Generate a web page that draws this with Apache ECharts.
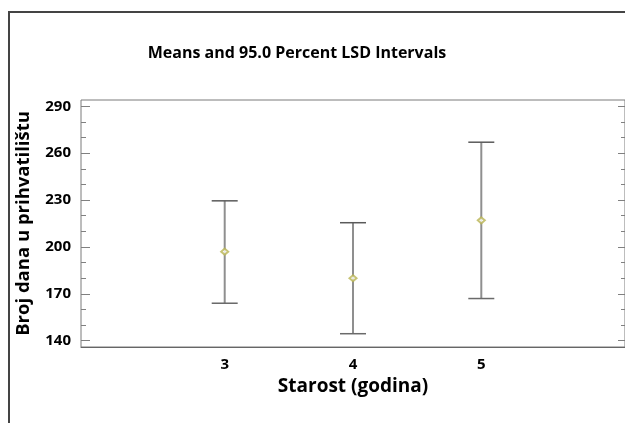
<!DOCTYPE html>
<html>
<head>
<meta charset="utf-8">
<script src="https://cdn.jsdelivr.net/npm/echarts@6/dist/echarts.min.js"></script>
<style>
html,body{margin:0;padding:0;background:#fff;}
#chart{width:625px;height:423px;}
</style>
</head>
<body>
<div id="chart"></div>
<script>
// Data
var ages = [3, 4, 5];
var means = [197, 180, 217];
var lower = [164, 144.5, 167];
var upper = [229.5, 215.5, 267];
var yLabelValues = [140, 170, 200, 230, 260, 290];
var yMinorValues = [150, 160, 180, 190, 210, 220, 240, 250, 270, 280];

var FONT = 'Open Sans';
var chart = echarts.init(document.getElementById('chart'), null, {renderer: 'canvas'});

var barData = ages.map(function (a, i) { return [a, lower[i], upper[i]]; });
var meanData = ages.map(function (a, i) { return [a, means[i]]; });

function yAxisBase(pos, tickVals, len, showLabel) {
  return {
    type: 'value', position: pos, min: 136, max: 294,
    axisLine: {show: false},
    splitLine: {show: false},
    axisTick: {show: true, inside: true, length: len, customValues: tickVals,
      lineStyle: {color: '#808080', width: 1}},
    axisLabel: {show: showLabel, customValues: yLabelValues, margin: 10,
      fontFamily: FONT, fontWeight: 'bold', fontSize: 15, color: '#000'}
  };
}

var left0 = yAxisBase('left', yLabelValues, 9, true);
left0.name = 'Broj dana u prihvatilištu';
left0.nameLocation = 'middle';
left0.nameGap = 48;
left0.nameTextStyle = {fontFamily: FONT, fontWeight: 'bold', fontSize: 18.5, color: '#000'};

var option = {
  backgroundColor: '#fff',
  animation: false,
  title: {
    text: 'Means and 95.0 Percent LSD Intervals',
    left: 292, top: 40, textAlign: 'center',
    textStyle: {fontFamily: FONT, fontWeight: 'bold', fontSize: 16, color: '#000'}
  },
  graphic: [
    {type: 'line', shape: {x1: 9, y1: 12, x2: 9, y2: 423}, style: {stroke: '#444', lineWidth: 2}},
    {type: 'line', shape: {x1: 8, y1: 12, x2: 625, y2: 12}, style: {stroke: '#444', lineWidth: 2}}
  ],
  grid: {left: 81, top: 100, right: -3, bottom: 76, show: true, borderColor: '#7a7a7a', borderWidth: 1, backgroundColor: 'transparent'},
  xAxis: {
    type: 'value', min: 1.88, max: 6.12,
    name: 'Starost (godina)', nameLocation: 'middle', nameGap: 28,
    nameTextStyle: {fontFamily: FONT, fontWeight: 'bold', fontSize: 19, color: '#000'},
    axisLine: {show: true, lineStyle: {color: '#666', width: 1}},
    axisTick: {show: false},
    splitLine: {show: false},
    axisLabel: {customValues: ages, margin: 10, fontFamily: FONT, fontWeight: 'bold', fontSize: 15, color: '#000'}
  },
  yAxis: [
    left0,
    yAxisBase('left', yMinorValues, 5, false),
    yAxisBase('right', yLabelValues, 7, false),
    yAxisBase('right', yMinorValues, 4, false)
  ],
  series: [
    {
      type: 'custom',
      yAxisIndex: 0,
      data: barData,
      renderItem: function (params, api) {
        var x = api.value(0);
        var lo = api.coord([x, api.value(1)]);
        var hi = api.coord([x, api.value(2)]);
        var half = 13;
        return {
          type: 'group',
          children: [
            {type: 'line', shape: {x1: lo[0], y1: lo[1], x2: hi[0], y2: hi[1]}, style: {stroke: '#8f8f8f', lineWidth: 2}},
            {type: 'line', shape: {x1: hi[0] - half, y1: hi[1], x2: hi[0] + half, y2: hi[1]}, style: {stroke: '#5a5a5a', lineWidth: 1.5}},
            {type: 'line', shape: {x1: lo[0] - half, y1: lo[1], x2: lo[0] + half, y2: lo[1]}, style: {stroke: '#6a6a6a', lineWidth: 1.5}}
          ]
        };
      }
    },
    {
      type: 'scatter',
      yAxisIndex: 0,
      data: meanData,
      symbol: 'emptyDiamond',
      symbolSize: [7, 6],
      itemStyle: {color: '#b9b452', borderColor: '#b9b452', borderWidth: 1},
      z: 5
    }
  ]
};
chart.setOption(option);
</script>
</body>
</html>
